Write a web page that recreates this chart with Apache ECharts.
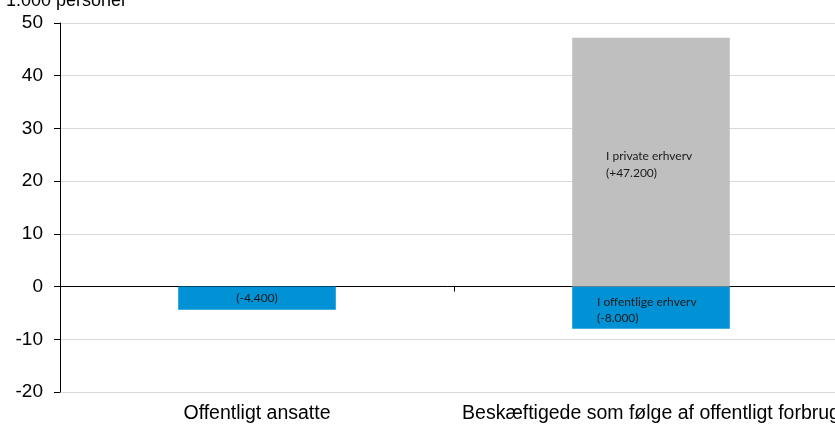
<!DOCTYPE html>
<html><head><meta charset="utf-8">
<script src="https://cdn.jsdelivr.net/npm/echarts@6/dist/echarts.min.js"></script>
<style>html,body{margin:0;padding:0;background:#fff}#c{width:835px;height:424px}</style>
</head><body><div id="c"></div>
<script>
const categories = ['Offentligt ansatte', 'Beskæftigede som følge af offentligt forbrug'];
const publicValues = [-4.4, -8.0];
const privateValues = [null, 47.2];
const publicLabels = ['(-4.400)', 'I offentlige erhverv\n(-8.000)'];
const privateLabels = ['', 'I private erhverv\n(+47.200)'];
const yTicks = [-20, -10, 0, 10, 20, 30, 40, 50];
const yName = '1.000 personer';

const chart = echarts.init(document.getElementById('c'), null, {renderer: 'canvas'});
const lblFont = {fontFamily: 'Lato', fontSize: 12, color: '#1a1a1a'};
const gridTop = 23, gridH = 369;
const zeroOffset = gridH * (yTicks[yTicks.length - 1] / (yTicks[yTicks.length - 1] - yTicks[0]));
chart.setOption({
  animation: false,
  grid: {left: 60, top: gridTop, width: 788, height: gridH, containLabel: false, outerBoundsMode: 'none'},
  graphic: [{type: 'text', left: 6, top: -8, style: {text: yName, font: '18px "Liberation Sans"', fill: '#000'}}],
  xAxis: [
    {type: 'category', data: categories, position: 'bottom',
     axisLine: {show: false}, axisTick: {show: false},
     axisLabel: {fontFamily: 'Liberation Sans', fontSize: 19.5, color: '#000', margin: 12, interval: 0, hideOverlap: false}},
    {type: 'category', data: categories, position: 'top', offset: -zeroOffset,
     axisLine: {onZero: false, lineStyle: {color: '#000', width: 1}},
     axisTick: {show: true, inside: true, length: 5, lineStyle: {color: '#000'}}, axisLabel: {show: false}}
  ],
  yAxis: {type: 'value', min: yTicks[0], max: yTicks[yTicks.length - 1], interval: 10,
    axisLine: {show: true, lineStyle: {color: '#000'}},
    axisTick: {show: true, length: 6, lineStyle: {color: '#000'}},
    splitLine: {lineStyle: {color: '#d9d9d9'}},
    axisLabel: {fontFamily: 'Liberation Sans', fontSize: 19, color: '#000', margin: 17}},
  series: [
    {type: 'bar', name: 'offentlige', stack: 's', barWidth: '40%', data: publicValues.map((v, i) => ({
      value: v,
      label: {show: true, position: 'inside', formatter: publicLabels[i], ...lblFont,
        align: i === 0 ? 'center' : 'left', offset: i === 0 ? [0, 0] : [-54, 2], lineHeight: 16}
    })), itemStyle: {color: '#0092D5'}},
    {type: 'bar', name: 'private', stack: 's', barWidth: '40%', data: privateValues.map((v, i) => ({
      value: v,
      label: {show: !!privateLabels[i], position: 'inside', formatter: privateLabels[i], ...lblFont,
        align: 'left', offset: [-45, 2], lineHeight: 17}
    })), itemStyle: {color: '#BFBFBF'}}
  ]
});
</script></body></html>
